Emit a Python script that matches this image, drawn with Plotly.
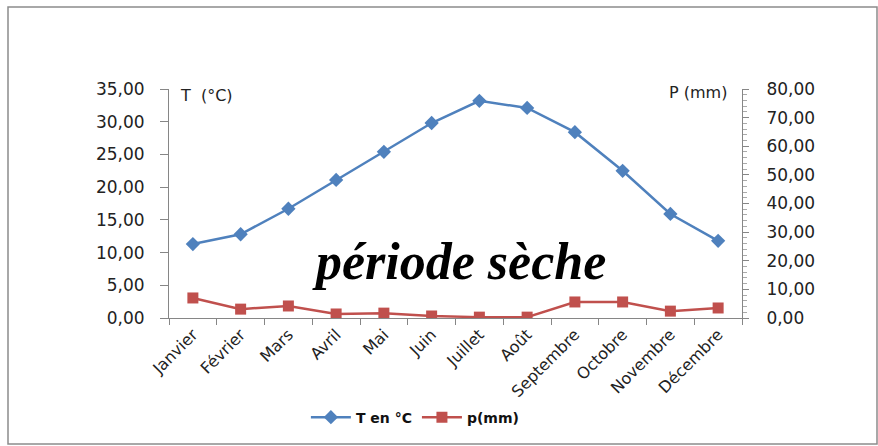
import plotly.graph_objects as go

mois = ["Janvier", "Février", "Mars", "Avril", "Mai", "Juin", "Juillet",
        "Août", "Septembre", "Octobre", "Novembre", "Décembre"]
temperature = [11.3, 12.8, 16.7, 21.1, 25.4, 29.8, 33.2, 32.1, 28.4, 22.5, 15.9, 11.8]
precipitation = [7.0, 3.1, 4.2, 1.4, 1.7, 0.7, 0.3, 0.3, 5.6, 5.6, 2.4, 3.5]

t_ticks = [0, 5, 10, 15, 20, 25, 30, 35]
p_ticks = [0, 10, 20, 30, 40, 50, 60, 70, 80]

BLUE = "#4F81BD"
RED = "#C0504D"
AX = "#868686"
FONT = "DejaVu Sans"

fig = go.Figure()
fig.add_trace(go.Scatter(
    x=mois, y=temperature, name="T en °C", mode="lines+markers",
    line=dict(color=BLUE, width=2.5),
    marker=dict(symbol="diamond", size=11, color=BLUE),
))
fig.add_trace(go.Scatter(
    x=mois, y=precipitation, name="p(mm)", mode="lines+markers", yaxis="y2",
    line=dict(color=RED, width=2.5),
    marker=dict(symbol="square", size=11, color=RED),
))

fig.update_layout(
    width=878, height=446,
    margin=dict(l=169, r=136, t=89, b=128),
    paper_bgcolor="white", plot_bgcolor="white",
    font=dict(family=FONT, size=17, color="#222222"),
    showlegend=True,
    legend=dict(orientation="h", x=0.43, xanchor="center", y=-0.435, yanchor="middle",
                font=dict(family=FONT, size=14, color="#111111", weight="bold"),
                itemwidth=40, tracegroupgap=0),
    xaxis=dict(
        type="category", tickson="boundaries", ticks="outside", ticklen=6,
        tickcolor=AX, showline=True, linecolor=AX, linewidth=1,
        showgrid=False, tickangle=-45, tickfont=dict(size=16),
        range=[-0.5, 11.5], fixedrange=True,
    ),
    yaxis=dict(
        range=[0, 35], tickvals=t_ticks,
        ticktext=[f"{v:.2f}".replace(".", ",") for v in t_ticks],
        ticks="outside", ticklen=8, tickcolor=AX,
        showline=True, linecolor=AX, linewidth=1, showgrid=False,
        zeroline=False, ticklabelstandoff=12,
    ),
    yaxis2=dict(
        range=[0, 80], tickvals=p_ticks,
        ticktext=[f"{v:.2f}".replace(".", ",") for v in p_ticks],
        overlaying="y", side="right",
        ticks="outside", ticklen=6, tickcolor=AX,
        minor=dict(dtick=2, ticks="outside", ticklen=4, tickcolor="#AAAAAA"),
        showline=True, linecolor=AX, linewidth=1, showgrid=False,
        zeroline=False, ticklabelstandoff=14,
    ),
    annotations=[
        dict(text="T  (°C)", xref="paper", yref="paper", x=0.016, y=0.97,
             xanchor="left", yanchor="middle", showarrow=False,
             font=dict(family=FONT, size=16, color="#222222")),
        dict(text="P (mm)", xref="paper", yref="paper", x=0.977, y=0.983,
             xanchor="right", yanchor="middle", showarrow=False,
             font=dict(family=FONT, size=16, color="#222222")),
        dict(text="période sèche", xref="paper", yref="paper", x=0.506, y=0.245,
             xanchor="center", yanchor="middle", showarrow=False,
             font=dict(family="Liberation Serif", size=52, color="black",
                       weight="bold", style="italic")),
    ],
    shapes=[
        dict(type="rect", xref="paper", yref="paper",
             x0=(8 - 169) / 573, x1=(877 - 169) / 573,
             y0=(318 - 444) / 229, y1=(318 - 7) / 229,
             line=dict(color="#8C8C8C", width=1.5), fillcolor="rgba(0,0,0,0)",
             layer="below"),
    ],
)

fig.write_html("out.html")
